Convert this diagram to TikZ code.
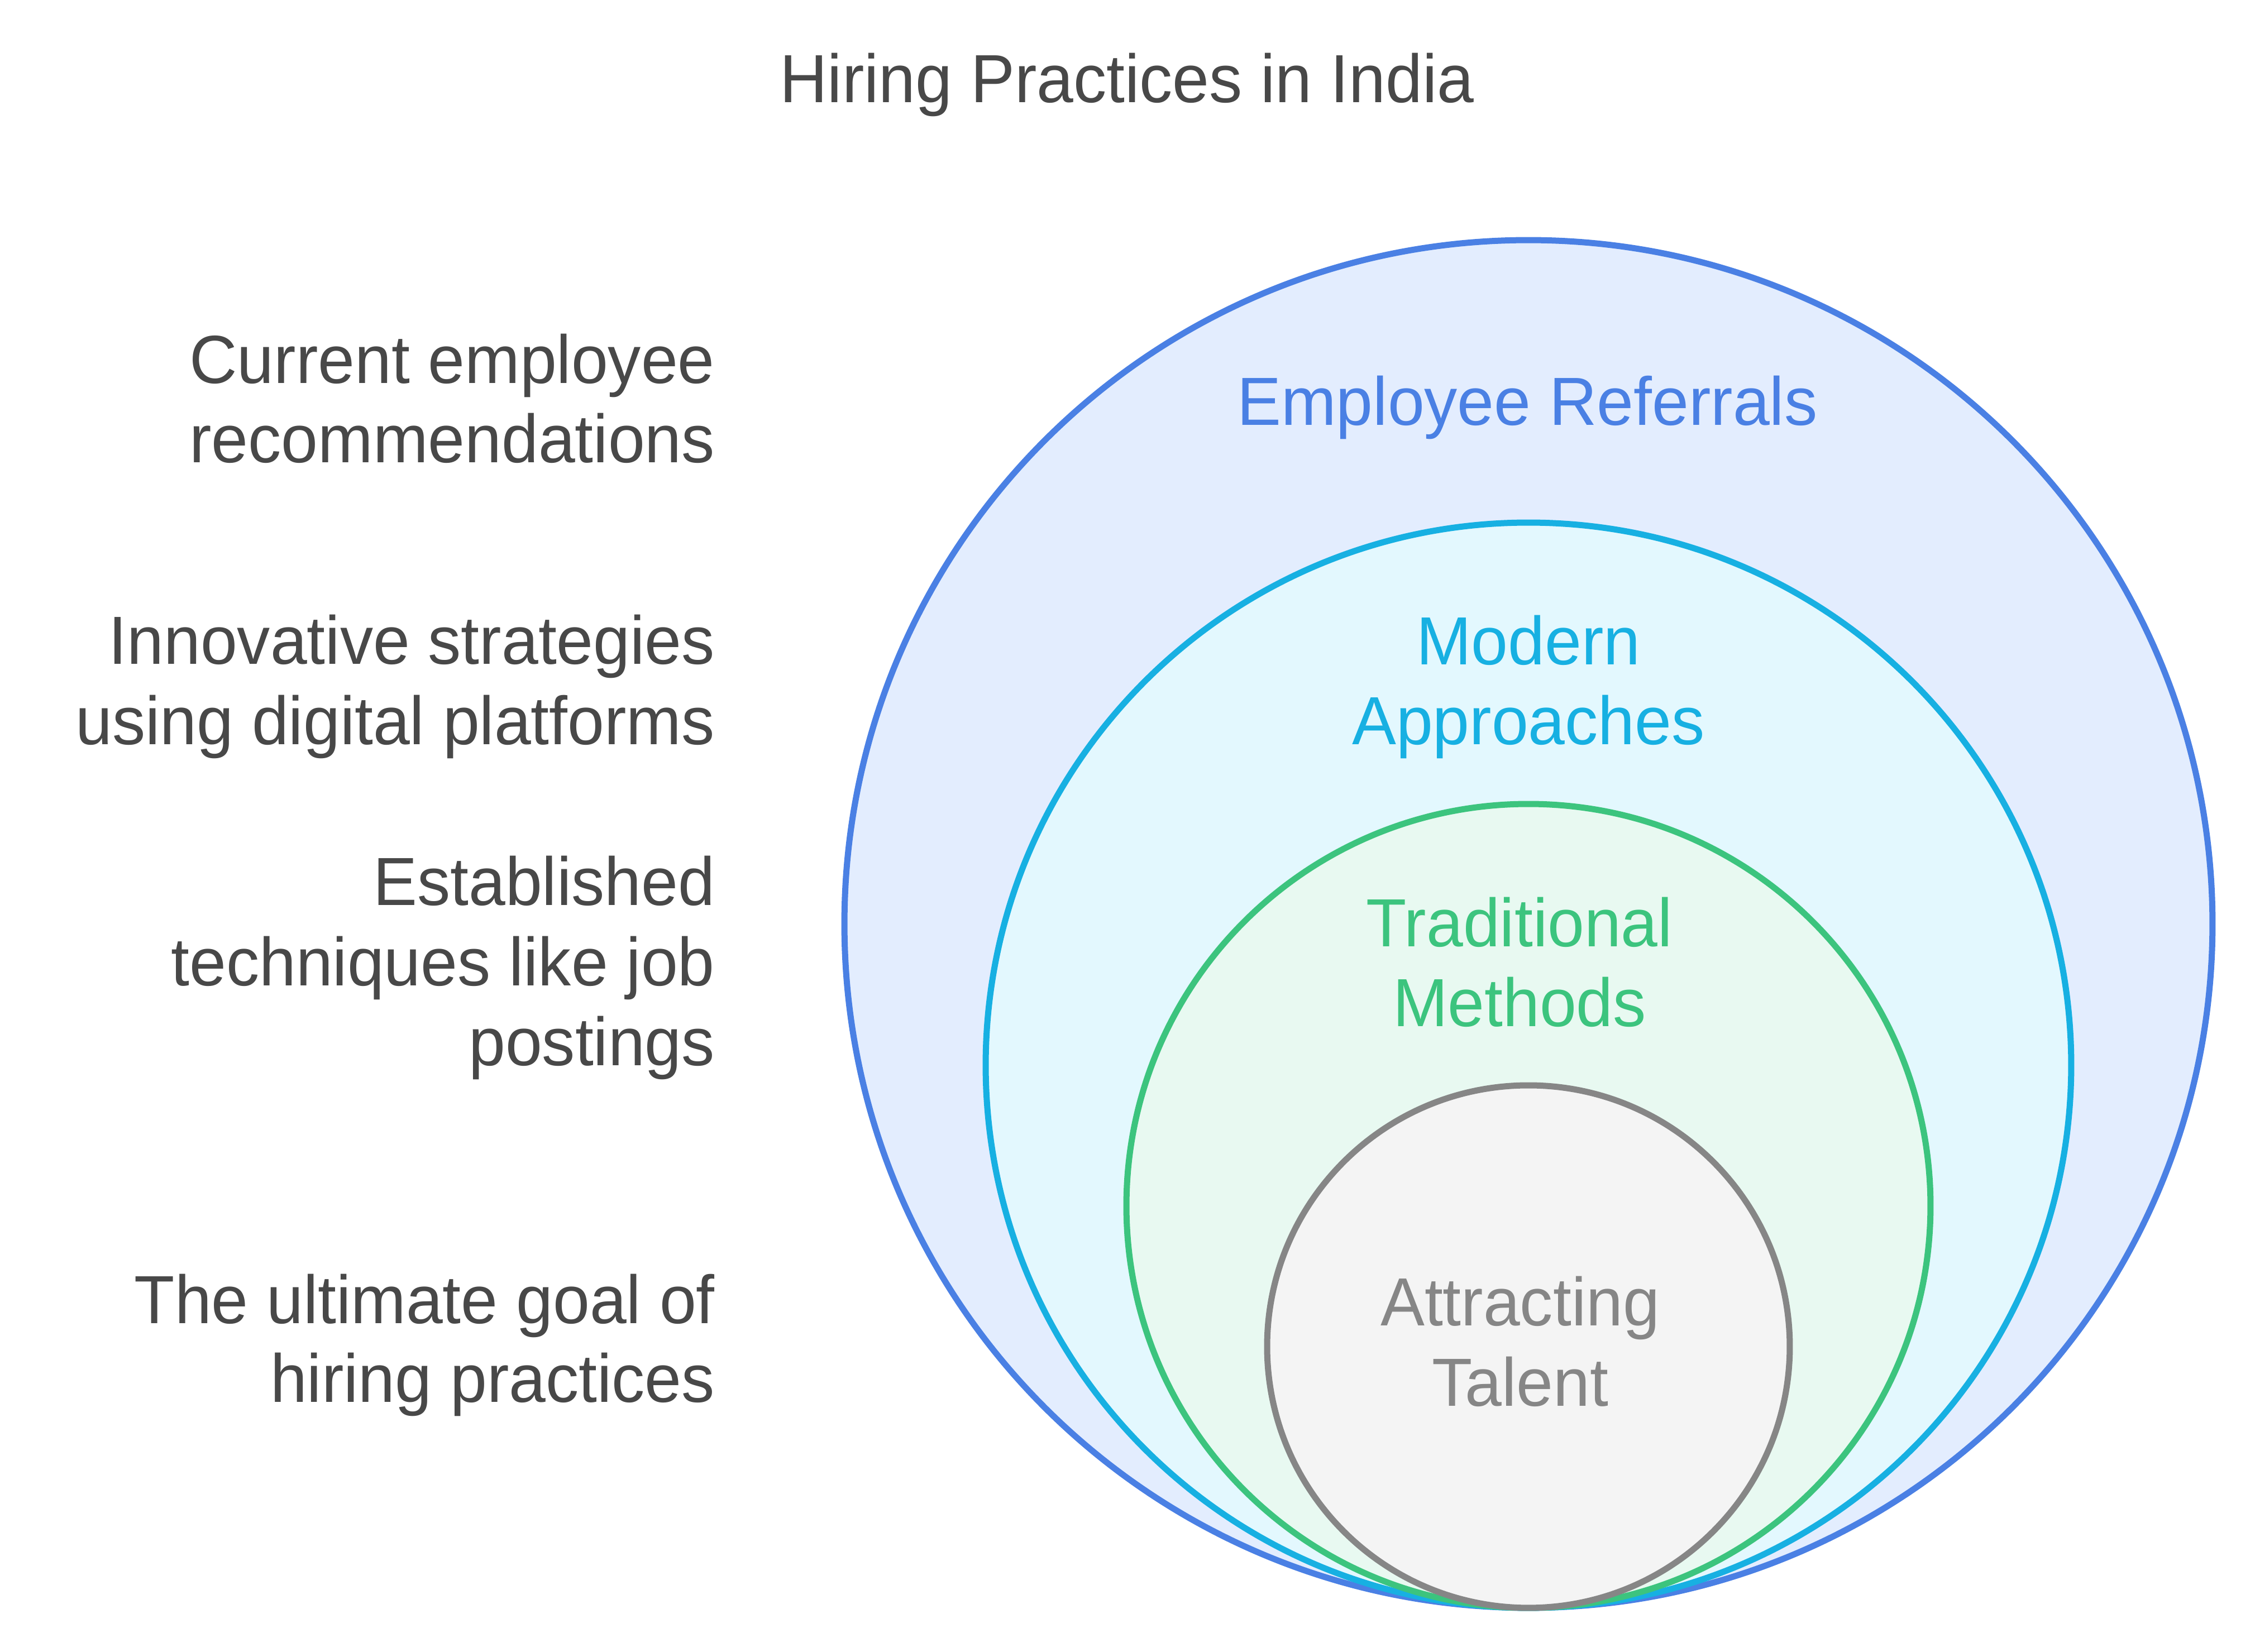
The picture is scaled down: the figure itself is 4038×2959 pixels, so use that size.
\documentclass[tikz,border=0pt]{standalone}
\usepackage{fontspec}
\setmainfont[FakeStretch=0.97]{Liberation Sans}
\definecolor{txtgray}{HTML}{484848}
\definecolor{bluestroke}{HTML}{4A80E4}
\definecolor{bluefill}{HTML}{E3EDFE}
\definecolor{cyanstroke}{HTML}{17B0E2}
\definecolor{cyanfill}{HTML}{E3F8FE}
\definecolor{greenstroke}{HTML}{3CC47E}
\definecolor{greenfill}{HTML}{E8F9F1}
\definecolor{graystroke}{HTML}{868686}
\definecolor{grayfill}{HTML}{F4F4F4}
\tikzset{
  ring/.style={circle, inner sep=0pt, outer sep=0pt, line width=1.1pt},
  basetext/.style={inner sep=0pt, outer sep=0pt, font=\fontsize{12.2pt}{14.3pt}\selectfont},
  sidetext/.style={basetext, text=txtgray, anchor=base east},
  ringtext/.style={basetext, anchor=base},
}
\begin{document}
\begin{tikzpicture}[x=0.1pt,y=-0.1pt]
\useasboundingbox (0,0) rectangle (4038,2959);
% title
\node[basetext, text=txtgray, anchor=base] (title) at (2018,184) {Hiring Practices in India};
% circles
\node[ring, draw=bluestroke, fill=bluefill, minimum size=245pt] (outer) at (2737,1655) {};
\node[ring, draw=cyanstroke, fill=cyanfill, minimum size=194.4pt] (modern) at (2737,1908) {};
\node[ring, draw=greenstroke, fill=greenfill, minimum size=144pt] (trad) at (2737,2160) {};
\node[ring, draw=graystroke, fill=grayfill, minimum size=93.6pt] (inner) at (2737,2412) {};
% circle labels
\node[ringtext, text=bluestroke] (l1) at (2735,762) {Employee Referrals};
\node[ringtext, text=cyanstroke] (l2a) at (2737,1191) {Modern};
\node[ringtext, text=cyanstroke] (l2b) at (2737,1334) {Approaches};
\node[ringtext, text=greenstroke] (l3a) at (2721,1696) {Traditional};
\node[ringtext, text=greenstroke] (l3b) at (2721,1839) {Methods};
\node[ringtext, text=graystroke] (l4a) at (2722,2375) {Attracting};
\node[ringtext, text=graystroke] (l4b) at (2722,2519) {Talent};
% side descriptions
\node[sidetext] (d1a) at (1280,687) {Current employee};
\node[sidetext] (d1b) at (1280,829) {recommendations};
\node[sidetext] (d2a) at (1280,1190) {Innovative strategies};
\node[sidetext] (d2b) at (1280,1334) {using digital platforms};
\node[sidetext] (d3a) at (1280,1622) {Established};
\node[sidetext] (d3b) at (1280,1766) {techniques like job};
\node[sidetext] (d3c) at (1280,1909) {postings};
\node[sidetext] (d4a) at (1280,2371) {The ultimate goal of};
\node[sidetext] (d4b) at (1280,2512) {hiring practices};
\end{tikzpicture}
\end{document}
